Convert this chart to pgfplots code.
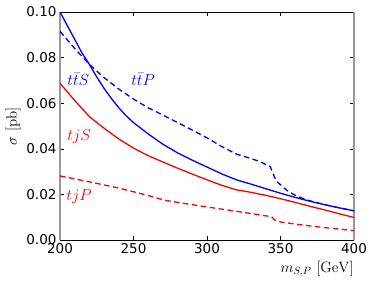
\RequirePackage{fix-cm}
\documentclass[border=0pt]{standalone}
\usepackage[no-math]{fontspec}
\setmainfont{DejaVu Sans}
\usepackage{pgfplots}
\pgfplotsset{compat=1.18}
\begin{document}
\begin{tikzpicture}
\path[use as bounding box] (-60pt,-45pt) rectangle (314pt,240pt);
\begin{axis}[
  scale only axis,
  width=294pt, height=228pt,
  xmin=200, xmax=400, ymin=0, ymax=0.10,
  xtick={200,250,300,350,400},
  ytick={0,0.02,0.04,0.06,0.08,0.10},
  /pgf/number format/assume math mode=true,
  yticklabel style={/pgf/number format/.cd,fixed,fixed zerofill,precision=2},
  xticklabel style={/pgf/number format/.cd,fixed},
  scaled y ticks=false,
  tick label style={font=\fontsize{13.5}{16}\selectfont},
  label style={font=\fontsize{15}{17}\selectfont},
  separate axis lines,
  x axis line style={black, line width=0.8pt},
  y axis line style={black!40, line width=1.6pt},
  major tick length=4pt,
  tick style={black, line width=0.5pt},
  xlabel={$m_{S,P}\ [\mathrm{GeV}]$},
  xlabel style={at={(axis description cs:1,0)}, anchor=north east, yshift=-21pt, inner sep=0pt},
  ylabel={$\sigma\ [\mathrm{pb}]$},
  ylabel style={yshift=-1pt},
  clip=true,
]
% ttS
\addplot[blue, line width=1.3pt] coordinates {
(200,0.100) (205,0.094) (210,0.088) (215,0.082) (220,0.0770) (225,0.0715) (230,0.0665) (235,0.0620) (240,0.0580) (245,0.0545) (250,0.0515) (260,0.0465) (270,0.0420) (280,0.0382) (290,0.0350) (300,0.0320) (310,0.0290) (320,0.0264) (330,0.0245) (340,0.0225) (350,0.0205) (360,0.0187) (370,0.0170) (380,0.0155) (390,0.0141) (400,0.0128)};
% ttP
\addplot[blue, line width=1.3pt, dash pattern=on 5.5pt off 3.5pt] coordinates {
(200,0.0915) (210,0.0840) (220,0.0770) (230,0.0712) (240,0.0662) (250,0.0618) (260,0.0580) (270,0.0548) (280,0.0515) (290,0.0482) (300,0.0448) (310,0.0410) (320,0.0377) (330,0.0357) (336,0.0344) (343,0.0322) (345,0.0290) (347,0.0260) (352,0.0230) (356,0.0210) (362,0.0190) (370,0.0172) (380,0.0155) (390,0.0141) (400,0.0128)};
% tjS
\addplot[red, line width=1.3pt] coordinates {
(200,0.0687) (210,0.0612) (220,0.0541) (230,0.0490) (240,0.0443) (250,0.0403) (260,0.0370) (270,0.0342) (280,0.0315) (290,0.0289) (300,0.0264) (310,0.0240) (320,0.0220) (330,0.0209) (340,0.0196) (350,0.0181) (360,0.0165) (370,0.0148) (380,0.0132) (390,0.0115) (400,0.0099)};
% tjP
\addplot[red, line width=1.3pt, dash pattern=on 5.5pt off 3.5pt] coordinates {
(200,0.0281) (220,0.0255) (240,0.0228) (260,0.0195) (271,0.0175) (280,0.0165) (300,0.0145) (322,0.0124) (344,0.0102) (346,0.0088) (350,0.0079) (360,0.0070) (375,0.0058) (390,0.0048) (400,0.0041)};
\node[blue, font=\fontsize{16}{18}\selectfont] at (axis cs:212.5,0.0705) {$t\bar{t}S$};
\node[blue, font=\fontsize{16}{18}\selectfont] at (axis cs:256.5,0.0705) {$t\bar{t}P$};
\node[red, font=\fontsize{16}{18}\selectfont] at (axis cs:213,0.0455) {$tjS$};
\node[red, font=\fontsize{16}{18}\selectfont] at (axis cs:213,0.0190) {$tjP$};
\end{axis}
\end{tikzpicture}
\end{document}
